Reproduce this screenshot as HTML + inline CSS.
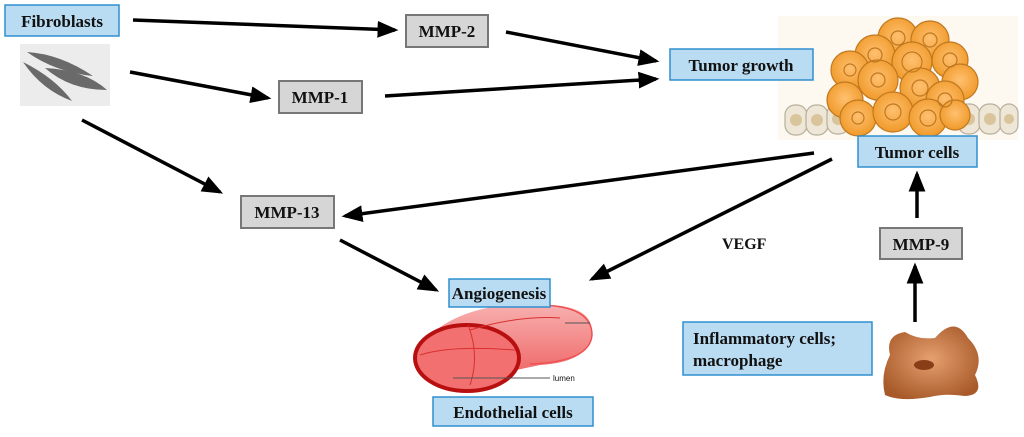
<!DOCTYPE html>
<html><head><meta charset="utf-8"><style>
body{margin:0;background:#fff;width:1024px;height:437px;overflow:hidden}
svg{display:block}
text{font-family:"Liberation Serif",serif;font-weight:bold;fill:#111}
.b{fill:#b9dcf2;stroke:#2f8fcf;stroke-width:1.5}
.g{fill:#d6d6d6;stroke:#777;stroke-width:2}
.l{stroke:#000;stroke-width:3.5;fill:none;marker-end:url(#a)}
</style></head><body>
<svg width="1024" height="437" viewBox="0 0 1024 437">
<defs>
<marker id="a" markerWidth="6" markerHeight="6" refX="5" refY="3" orient="auto" markerUnits="strokeWidth"><path d="M0,0.6L6,3L0,5.4Z" fill="#000"/></marker>
<radialGradient id="cell" cx="50%" cy="45%" r="55%"><stop offset="0" stop-color="#ffc070"/><stop offset="1" stop-color="#f09a2a"/></radialGradient>
<radialGradient id="mac" cx="50%" cy="45%" r="60%"><stop offset="0" stop-color="#e6a070"/><stop offset="1" stop-color="#a85a2a"/></radialGradient>
<linearGradient id="ves" x1="0" y1="0" x2="0" y2="1"><stop offset="0" stop-color="#f8b0b0"/><stop offset="1" stop-color="#ee6060"/></linearGradient>
</defs>

<!-- tumor image -->
<rect x="778" y="16" width="240" height="124" fill="#fdf8f0"/>
<g fill="#eee6d6" stroke="#b8ae9c" stroke-width="1.2">
<rect x="785" y="105" width="22" height="30" rx="10"/><rect x="806" y="105" width="22" height="30" rx="10"/><rect x="827" y="104" width="22" height="30" rx="10"/>
<rect x="958" y="104" width="22" height="30" rx="10"/><rect x="979" y="104" width="22" height="30" rx="10"/><rect x="1000" y="104" width="18" height="30" rx="9"/>
</g>
<g fill="#d9c49c"><circle cx="796" cy="120" r="6"/><circle cx="817" cy="120" r="6"/><circle cx="838" cy="119" r="6"/><circle cx="969" cy="119" r="6"/><circle cx="990" cy="119" r="6"/><circle cx="1009" cy="119" r="5"/></g>
<g fill="url(#cell)" stroke="#c07820" stroke-width="1.2">
<circle cx="898" cy="38" r="20"/><circle cx="930" cy="40" r="19"/><circle cx="875" cy="55" r="20"/><circle cx="912" cy="62" r="20"/><circle cx="950" cy="60" r="18"/>
<circle cx="850" cy="70" r="19"/><circle cx="960" cy="82" r="18"/><circle cx="878" cy="80" r="20"/><circle cx="920" cy="88" r="20"/><circle cx="945" cy="100" r="19"/>
<circle cx="845" cy="100" r="18"/><circle cx="858" cy="118" r="18"/><circle cx="893" cy="112" r="20"/><circle cx="928" cy="118" r="19"/><circle cx="955" cy="115" r="15"/>
</g>
<g fill="none" stroke="#c07820" stroke-width="1.2">
<circle cx="898" cy="38" r="7"/><circle cx="930" cy="40" r="7"/><circle cx="875" cy="55" r="7"/><circle cx="912" cy="62" r="10"/><circle cx="950" cy="60" r="7"/>
<circle cx="850" cy="70" r="6"/><circle cx="878" cy="80" r="7"/><circle cx="920" cy="88" r="8"/><circle cx="945" cy="100" r="7"/>
<circle cx="858" cy="118" r="6"/><circle cx="893" cy="112" r="8"/><circle cx="928" cy="118" r="8"/>
</g>

<!-- fibroblasts -->
<rect x="5" y="5" width="114" height="31" class="b"/>
<text x="62" y="27" font-size="17" text-anchor="middle">Fibroblasts</text>
<rect x="20" y="44" width="90" height="62" fill="#ececec"/>
<g fill="#6a6a6a">
<path d="M27,52 Q60,54 93,76 Q55,72 27,52Z"/><path d="M23,62 Q55,78 72,101 Q42,90 23,62Z"/><path d="M45,68 Q85,70 107,90 Q70,90 45,68Z"/>
</g>

<!-- gray boxes -->
<rect x="406" y="15" width="82" height="32" class="g"/><text x="447" y="37" font-size="17" text-anchor="middle">MMP-2</text>
<rect x="279" y="81" width="83" height="32" class="g"/><text x="320" y="103" font-size="17" text-anchor="middle">MMP-1</text>
<rect x="241" y="196" width="93" height="32" class="g"/><text x="287" y="218" font-size="17" text-anchor="middle">MMP-13</text>
<rect x="880" y="228" width="82" height="31" class="g"/><text x="921" y="250" font-size="17" text-anchor="middle">MMP-9</text>

<!-- vessel -->
<path d="M430,335 Q470,300 545,305 Q590,305 592,330 Q592,362 540,365 L460,382 Z" fill="url(#ves)"/>
<path d="M540,305 Q592,306 592,335 Q590,362 530,364" fill="none" stroke="#ee5050" stroke-width="1.5"/>
<ellipse cx="467" cy="358" rx="52" ry="33" fill="#f27070" stroke="#b81010" stroke-width="4"/>
<path d="M468,325 Q480,355 470,385 M420,355 Q450,345 515,350 M470,330 Q520,315 560,318" fill="none" stroke="#d83030" stroke-width="1"/>
<line x1="453" y1="378" x2="550" y2="378" stroke="#555" stroke-width="1"/>
<text x="553" y="381" font-size="8" style="font-weight:normal;font-family:'Liberation Sans',sans-serif">lumen</text>
<line x1="565" y1="323" x2="590" y2="323" stroke="#555" stroke-width="1"/>

<!-- blue boxes -->
<rect x="670" y="49" width="143" height="31" class="b"/><text x="741" y="71" font-size="17" text-anchor="middle">Tumor growth</text>
<rect x="858" y="136" width="119" height="31" class="b"/><text x="917" y="158" font-size="17" text-anchor="middle">Tumor cells</text>
<rect x="449" y="279" width="101" height="28" class="b"/><text x="499" y="299" font-size="17" text-anchor="middle">Angiogenesis</text>
<rect x="433" y="397" width="160" height="29" class="b"/><text x="513" y="418" font-size="17" text-anchor="middle">Endothelial cells</text>
<rect x="683" y="322" width="189" height="53" class="b"/>
<text x="693" y="344" font-size="17">Inflammatory cells;</text><text x="693" y="366" font-size="17">macrophage</text>
<text x="722" y="249" font-size="16">VEGF</text>

<!-- macrophage -->
<path d="M905,332 Q918,340 935,338 Q955,315 968,338 Q985,355 975,375 Q985,395 965,396 Q945,393 930,397 Q900,402 885,395 Q880,375 890,355 Q885,335 905,332Z" fill="url(#mac)"/>
<ellipse cx="924" cy="365" rx="10" ry="5" fill="#8a3e18"/>

<!-- arrows -->
<line x1="133" y1="20" x2="395" y2="30" class="l"/>
<line x1="130" y1="72" x2="268" y2="98" class="l"/>
<line x1="82" y1="120" x2="220" y2="192" class="l"/>
<line x1="506" y1="32" x2="656" y2="61" class="l"/>
<line x1="385" y1="96" x2="656" y2="79" class="l"/>
<line x1="814" y1="153" x2="345" y2="216" class="l"/>
<line x1="832" y1="159" x2="592" y2="279" class="l"/>
<line x1="340" y1="240" x2="436" y2="290" class="l"/>
<line x1="917" y1="218" x2="917" y2="174" class="l"/>
<line x1="915" y1="322" x2="915" y2="266" class="l"/>
</svg>
</body></html>
